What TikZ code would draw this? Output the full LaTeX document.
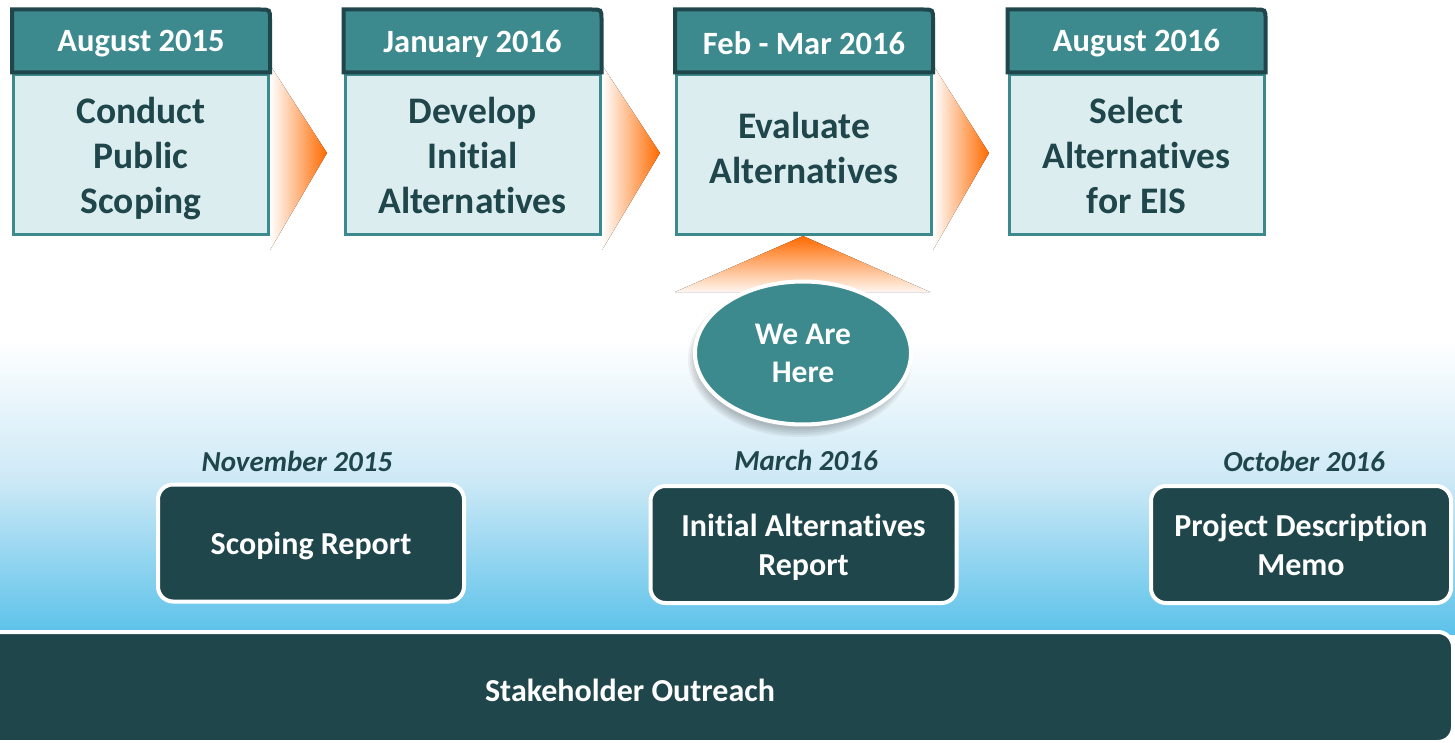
\documentclass[tikz,border=0pt]{standalone}
\usepackage{fontspec}
\setmainfont{Carlito}[Ligatures={NoCommon}]
\usetikzlibrary{shapes.geometric}
\definecolor{tealc}{HTML}{3D8A8E}
\definecolor{darkc}{HTML}{1F464A}
\definecolor{bodyc}{HTML}{DCEDF0}
\definecolor{orangec}{HTML}{FF6A00}
\definecolor{skyc}{HTML}{5CC2EA}
\definecolor{lightskyc}{HTML}{CDE9F6}
\begin{document}
\begin{tikzpicture}[x=1pt,y=-1pt,
  bodybox/.style={minimum width=255, minimum height=160, inner sep=0pt, fill=bodyc, draw=tealc, line width=3pt},
  bodytext/.style={inner sep=0pt, font=\fontsize{37.5}{45}\selectfont\bfseries, text=darkc, align=center},
  hdr/.style={inner sep=0pt, text=white, font=\fontsize{32.5}{35}\selectfont\bfseries},
  hdrframe/.style={fill=tealc, draw=darkc, line width=4pt},
  chev/.style={left color=white, right color=orangec},
  repbox/.style={rounded corners=15pt, fill=darkc, draw=white, line width=4pt, inner sep=0pt,
    text=white, align=center, font=\fontsize{32}{39}\selectfont\bfseries},
  datelbl/.style={text=darkc, font=\fontsize{29}{32}\selectfont\bfseries\itshape},
  herestyle/.style={ellipse, fill=tealc, draw=white, line width=4pt, minimum width=216, minimum height=143,
    inner sep=0pt, text=white, align=center, font=\fontsize{31.5}{38}\selectfont\bfseries},
  shadowc/.style={fill=black, opacity=0.05},
  bartext/.style={text=white, font=\fontsize{32}{36}\selectfont\bfseries}
]
\useasboundingbox (0,0) rectangle (1455,743);
% background
\fill[white] (0,0) rectangle (1455,743);
\fill[top color=white, bottom color=lightskyc] (0,340) rectangle (1455,480);
\fill[top color=lightskyc, bottom color=skyc] (0,479.5) rectangle (1455,634);
% chevrons
\foreach \xa/\xb in {270/327, 602/660, 933/989}
  \fill[chev] (\xa,65) -- (\xb,153) -- (\xa,250) -- cycle;
\fill[top color=orangec, bottom color=orangec!6] (803,236) -- (930,292) -- (675,292) -- cycle;

% step bodies
\node[bodybox] (b1) at (141,155) {};
\node[bodybox] (b2) at (472.5,155) {};
\node[bodybox] (b3) at (804,155) {};
\node[bodybox] (b4) at (1136.5,155) {};
\node[bodytext] (t1) at (141,159) {Conduct\\Public\\Scoping};
\node[bodytext] (t2) at (472.5,155) {Develop\\Initial\\Alternatives};
\node[bodytext] (t3) at (804,148) {Evaluate\\Alternatives};
\node[bodytext] (t4) at (1136.5,155) {Select\\Alternatives\\for EIS};

% header frames
\foreach \n in {b1,b2,b3,b4}
  \draw[hdrframe] ([yshift=1pt]\n.north west) -- ([yshift=64pt]\n.north west) -- ([yshift=64pt,xshift=-10pt]\n.north east)
    .. controls ([yshift=64pt]\n.north east) .. ([yshift=54pt]\n.north east) -- ([yshift=1pt]\n.north east) -- cycle;

\node[hdr] (h1) at (141,43.5) {August 2015};
\node[hdr] (h2) at (472.5,43.5) {January 2016};
\node[hdr] (h3) at (804,43.5) {Feb - Mar 2016};
\node[hdr] (h4) at (1136.5,43.5) {August 2016};

% shadow of the marker
\foreach \i in {0,2,4,6,8}
  \fill[shadowc] (800,359) ellipse ({104+\i} and {70+\i});
\node[herestyle] (here) at (803,353) {We Are\\Here};

\node[datelbl] (d1) at (297,461) {November 2015};
\node[datelbl] (d2) at (806,460) {March 2016};
\node[datelbl] (d3) at (1304,461) {October 2016};

\node[repbox, minimum width=306, minimum height=117, text depth=0pt] (r1) at (311,543) {Scoping Report};
\node[repbox, minimum width=306, minimum height=117, text depth=0pt] (r2) at (803.5,544.5) {Initial Alternatives\\Report};
\node[repbox, minimum width=300, minimum height=117] (r3) at (1301,544.5) {Project Description\\Memo};

\node[repbox, minimum width=1474, minimum height=110] (bar) at (716,687) {};
\node[bartext] (so) at (630,690) {Stakeholder Outreach};
\end{tikzpicture}
\end{document}
